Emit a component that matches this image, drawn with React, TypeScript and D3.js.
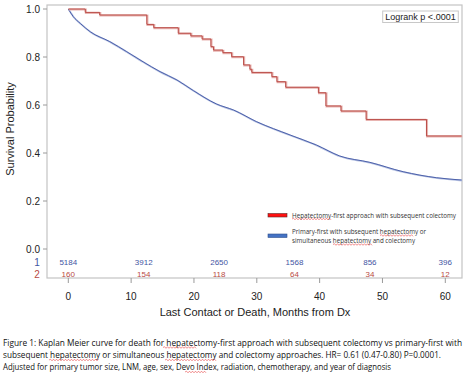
import React from "react";
import * as d3 from "d3";

const redTimes = [0, 2.7, 5.0, 12.5, 13.6, 17.5, 19.5, 21.3, 22.7, 23.1, 24.6, 26.0, 27.9, 28.9, 29.2, 32.4, 33.2, 34.6, 39.8, 41.0, 43.4, 47.4, 57.0, 62.6];
const redSurv = [1.0, 0.986, 0.975, 0.936, 0.922, 0.899, 0.888, 0.875, 0.843, 0.829, 0.818, 0.801, 0.767, 0.749, 0.736, 0.718, 0.697, 0.674, 0.651, 0.596, 0.575, 0.54, 0.471, 0.471];

const blueTimes = [0, 0.8, 1.9, 3.5, 6.6, 9.3, 11.9, 14.6, 17.3, 19.9, 23.6, 26.3, 30.0, 35.3, 39.5, 43.2, 48.0, 53.3, 58.6, 62.6];
const blueSurv = [1.0, 0.968, 0.94, 0.905, 0.864, 0.822, 0.78, 0.739, 0.704, 0.66, 0.604, 0.579, 0.53, 0.475, 0.433, 0.3875, 0.361, 0.322, 0.297, 0.2875];

const yTicks = [0, 0.2, 0.4, 0.6, 0.8, 1.0];
const xTicks = [0, 10, 20, 30, 40, 50, 60];
const riskTimes = [0, 12, 24, 36, 48, 60];
const riskBlue = [5184, 3912, 2650, 1568, 856, 396];
const riskRed = [160, 154, 118, 64, 34, 12];

const legendRed = "Hepatectomy-first approach with subsequent colectomy";
const legendBlue1 = "Primary-first with subsequent hepatectomy or";
const legendBlue2 = "simultaneous hepatectomy and colectomy";
const captionLines = [
  "Figure 1: Kaplan Meier curve for death for hepatectomy-first approach with subsequent colectomy vs primary-first with",
  "subsequent hepatectomy or simultaneous hepatectomy and colectomy approaches. HR= 0.61 (0.47-0.80) P=0.0001.",
  "Adjusted for primary tumor size, LNM, age, sex, Devo Index, radiation, chemotherapy, and year of diagnosis",
];

const RED = "#b94a45";
const RED_HALO = "#e8b4b1";
const BLUE = "#3f55a3";
const BLUE_HALO = "#bac5e4";

function squiggle(x0: number, x1: number, y: number) {
  let d = `M${x0},${y}`;
  let up = true;
  for (let x = x0 + 1.5; x <= x1; x += 1.5) {
    d += ` L${x},${y + (up ? -0.8 : 0.8)}`;
    up = !up;
  }
  return d;
}

export default function App() {
  const x = d3.scaleLinear().domain([0, 60]).range([68.3, 445.3]);
  const y = d3.scaleLinear().domain([0, 1]).range([249, 9]);

  const redData = redTimes.map((t, i) => [t, redSurv[i]] as [number, number]);
  const blueData = blueTimes.map((t, i) => [t, blueSurv[i]] as [number, number]);

  const stepLine = d3.line<[number, number]>().x((d) => x(d[0])).y((d) => y(d[1])).curve(d3.curveStepAfter);
  const smoothLine = d3.line<[number, number]>().x((d) => x(d[0])).y((d) => y(d[1])).curve(d3.curveMonotoneX);

  const font = "'Liberation Sans', Arial, sans-serif";
  const capFont = "'Open Sans', 'Liberation Sans', sans-serif";

  const frame = { l: 47, t: 5, r: 462, b: 278 };

  return (
    <svg width={467} height={376} style={{ position: "absolute", left: 0, top: 0, background: "#fff" }}>
      <rect x={0} y={0} width={467} height={376} fill="#fff" />
      <rect x={frame.l} y={frame.t} width={frame.r - frame.l} height={frame.b - frame.t} fill="none" stroke="#c4c4c4" strokeWidth={1.2} />

      {yTicks.map((t) => (
        <g key={t}>
          <line x1={43} x2={frame.l} y1={y(t)} y2={y(t)} stroke="#9a9a9a" />
          <text x={40} y={y(t)} dy="0.35em" textAnchor="end" fontFamily={font} fontSize={10} fill="#222">
            {t.toFixed(1)}
          </text>
        </g>
      ))}
      <text transform={`translate(14,${129}) rotate(-90)`} textAnchor="middle" fontFamily={font} fontSize={11} fill="#222">
        Survival Probability
      </text>

      {xTicks.map((t) => (
        <g key={t}>
          <line x1={x(t)} x2={x(t)} y1={frame.b} y2={frame.b + 5} stroke="#9a9a9a" />
          <text x={x(t)} y={296} dy="0.35em" textAnchor="middle" fontFamily={font} fontSize={10} fill="#222">
            {t}
          </text>
        </g>
      ))}
      <text x={255} y={312} dy="0.35em" textAnchor="middle" fontFamily={font} fontSize={11} fill="#222">
        Last Contact or Death, Months from Dx
      </text>

      <path d={smoothLine(blueData) || ""} fill="none" stroke={BLUE_HALO} strokeWidth={1.8} transform="translate(0.5,0.5)" />
      <path d={smoothLine(blueData) || ""} fill="none" stroke={BLUE} strokeWidth={0.9} />
      <path d={stepLine(redData) || ""} fill="none" stroke={RED_HALO} strokeWidth={2} transform="translate(0.6,0.6)" />
      <path d={stepLine(redData) || ""} fill="none" stroke={RED} strokeWidth={1} />

      <rect x={382.7} y={11} width={75.6} height={11.5} fill="#fff" stroke="#c8c8c8" />
      <text x={420.5} y={16.9} dy="0.35em" textAnchor="middle" fontFamily={font} fontSize={9} fill="#222">
        Logrank p &lt;.0001
      </text>

      <rect x={268} y={213.5} width={19} height={3.5} fill="#ff1010" stroke="#5a2a2a" strokeWidth={0.6} />
      <text x={292} y={215.5} dy="0.35em" fontFamily={capFont} fontSize={6.6} fill="#333" textLength={164} lengthAdjust="spacingAndGlyphs">
        {legendRed}
      </text>
      <rect x={268} y={234} width={19} height={3.5} fill="#4472c4" stroke="#2f4f8a" strokeWidth={0.6} />
      <text x={292} y={232} dy="0.35em" fontFamily={capFont} fontSize={6.6} fill="#333" textLength={134} lengthAdjust="spacingAndGlyphs">
        {legendBlue1}
      </text>
      <text x={292} y={241} dy="0.35em" fontFamily={capFont} fontSize={6.6} fill="#333" textLength={123} lengthAdjust="spacingAndGlyphs">
        {legendBlue2}
      </text>
      <path d={squiggle(292, 332, 219)} fill="none" stroke="#e02020" strokeWidth={0.5} />
      <path d={squiggle(380, 413, 235.5)} fill="none" stroke="#e02020" strokeWidth={0.5} />
      <path d={squiggle(333, 373, 244.5)} fill="none" stroke="#e02020" strokeWidth={0.5} />

      <text x={37} y={262} dy="0.35em" textAnchor="middle" fontFamily={font} fontSize={10} fill={BLUE}>1</text>
      <text x={37} y={274} dy="0.35em" textAnchor="middle" fontFamily={font} fontSize={10} fill={RED}>2</text>
      {riskTimes.map((t, i) => (
        <g key={t}>
          <text x={x(t)} y={262} dy="0.35em" textAnchor="middle" fontFamily={font} fontSize={8} fill={BLUE}>
            {riskBlue[i]}
          </text>
          <text x={x(t)} y={274} dy="0.35em" textAnchor="middle" fontFamily={font} fontSize={8} fill={RED}>
            {riskRed[i]}
          </text>
        </g>
      ))}

      <text x={3} y={343} dy="0.35em" fontFamily={capFont} fontSize={8.2} fill="#111" textLength={459} lengthAdjust="spacingAndGlyphs">
        {captionLines[0]}
      </text>
      <text x={3} y={355.5} dy="0.35em" fontFamily={capFont} fontSize={8.2} fill="#111" textLength={438} lengthAdjust="spacingAndGlyphs">
        {captionLines[1]}
      </text>
      <text x={3} y={367.5} dy="0.35em" fontFamily={capFont} fontSize={8.2} fill="#111" textLength={388} lengthAdjust="spacingAndGlyphs">
        {captionLines[2]}
      </text>
      <path d={squiggle(163, 197, 347.5)} fill="none" stroke="#e02020" strokeWidth={0.5} />
      <path d={squiggle(49, 99, 360)} fill="none" stroke="#e02020" strokeWidth={0.5} />
      <path d={squiggle(165, 216, 360)} fill="none" stroke="#e02020" strokeWidth={0.5} />
      <path d={squiggle(185, 206, 372)} fill="none" stroke="#e02020" strokeWidth={0.5} />
    </svg>
  );
}
